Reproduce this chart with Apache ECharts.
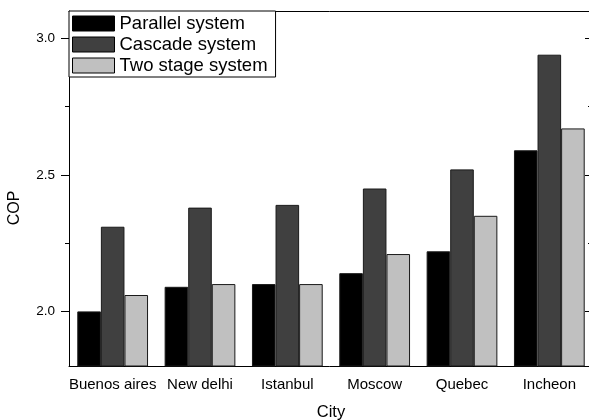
<!DOCTYPE html>
<html>
<head>
<meta charset="utf-8">
<script src="https://cdn.jsdelivr.net/npm/echarts@6/dist/echarts.min.js"></script>
<style>
  html, body { margin: 0; padding: 0; background: #fff; }
  #chart { width: 589px; height: 420px; }
</style>
</head>
<body>
<div id="chart"></div>
<script>
// COP of three refrigeration system layouts across six cities
const cities = ['Buenos aires', 'New delhi', 'Istanbul', 'Moscow', 'Quebec', 'Incheon'];
const parallelCop = [2.00, 2.09, 2.10, 2.14, 2.22, 2.59];
const cascadeCop  = [2.31, 2.38, 2.39, 2.45, 2.52, 2.94];
const twoStageCop = [2.06, 2.10, 2.10, 2.21, 2.35, 2.67];
const seriesNames = ['Parallel system', 'Cascade system', 'Two stage system'];
const majorTicks = [2.0, 2.5, 3.0];
const minorTicks = [2.25, 2.75];

const FONT = 'Liberation Sans, Arial, sans-serif';
const Y_MIN = 1.8, Y_MAX = 3.1;

const chart = echarts.init(document.getElementById('chart'), null, { renderer: 'canvas' });

function barSeries(name, data, color) {
  return {
    name: name,
    type: 'bar',
    data: data,
    xAxisIndex: 0,
    yAxisIndex: 0,
    barGap: '0%',
    barCategoryGap: '19%',
    itemStyle: { color: color, borderColor: '#1a1a1a', borderWidth: 1 },
    emphasis: { disabled: true }
  };
}

const blackLine = { lineStyle: { color: '#000', width: 1 } };

chart.setOption({
  animation: false,
  grid: { left: 69, top: 11, width: 524, height: 355, outerBoundsMode: 'none', containLabel: false },
  legend: {
    orient: 'vertical',
    left: 69,
    top: 11,
    icon: 'rect',
    itemWidth: 42,
    itemHeight: 15,
    itemGap: 2,
    padding: [3, 8, 2, 3],
    borderColor: '#000',
    borderWidth: 1,
    backgroundColor: '#fff',
    textStyle: { fontSize: 18.5, fontFamily: FONT, color: '#000' },
    itemStyle: { borderColor: '#000', borderWidth: 1 },
    data: seriesNames
  },
  xAxis: [
    {
      type: 'category',
      data: cities,
      position: 'bottom',
      axisLine: blackLine,
      axisTick: { alignWithLabel: true, length: 8, lineStyle: { color: '#000' } },
      axisLabel: { fontSize: 15, fontFamily: FONT, color: '#000', margin: 11, interval: 0 },
      name: 'City',
      nameLocation: 'middle',
      nameGap: 38,
      nameTextStyle: { fontSize: 16.5, fontFamily: FONT, color: '#000' }
    },
    {
      type: 'category',
      data: cities,
      position: 'bottom',
      axisLine: { show: false },
      axisTick: { alignWithLabel: false, length: 4, lineStyle: { color: '#000' } },
      axisLabel: { show: false }
    },
    {
      type: 'category',
      data: cities,
      position: 'top',
      axisLine: blackLine,
      axisTick: { alignWithLabel: true, inside: true, length: 6, lineStyle: { color: '#000' } },
      axisLabel: { show: false }
    }
  ],
  yAxis: [
    {
      type: 'value',
      position: 'left',
      min: Y_MIN, max: Y_MAX,
      splitLine: { show: false },
      axisLine: { show: true, lineStyle: { color: '#000', width: 1 } },
      axisTick: { show: true, length: 8, customValues: majorTicks, lineStyle: { color: '#000' } },
      axisLabel: {
        customValues: majorTicks,
        fontSize: 13.5, fontFamily: FONT, color: '#000', margin: 14,
        formatter: v => v.toFixed(1)
      }
    },
    {
      type: 'value',
      position: 'left',
      min: Y_MIN, max: Y_MAX,
      splitLine: { show: false },
      axisLine: { show: false },
      axisTick: { show: true, length: 4, customValues: minorTicks, lineStyle: { color: '#000' } },
      axisLabel: { show: false }
    },
    {
      type: 'value',
      position: 'right',
      min: Y_MIN, max: Y_MAX,
      splitLine: { show: false },
      axisLine: { show: true, lineStyle: { color: '#000', width: 1 } },
      axisTick: { show: true, inside: true, length: 8, customValues: majorTicks, lineStyle: { color: '#000' } },
      axisLabel: { show: false }
    },
    {
      type: 'value',
      position: 'right',
      min: Y_MIN, max: Y_MAX,
      splitLine: { show: false },
      axisLine: { show: false },
      axisTick: { show: true, inside: true, length: 5, customValues: minorTicks, lineStyle: { color: '#000' } },
      axisLabel: { show: false }
    }
  ],
  graphic: [
    {
      type: 'text',
      x: 15, y: 208,
      rotation: Math.PI / 2,
      style: {
        text: 'COP', fontSize: 16, fontFamily: FONT, fill: '#000',
        align: 'center', verticalAlign: 'middle'
      }
    }
  ],
  series: [
    barSeries(seriesNames[0], parallelCop, '#000000'),
    barSeries(seriesNames[1], cascadeCop, '#404040'),
    barSeries(seriesNames[2], twoStageCop, '#c0c0c0')
  ]
});
</script>
</body>
</html>
